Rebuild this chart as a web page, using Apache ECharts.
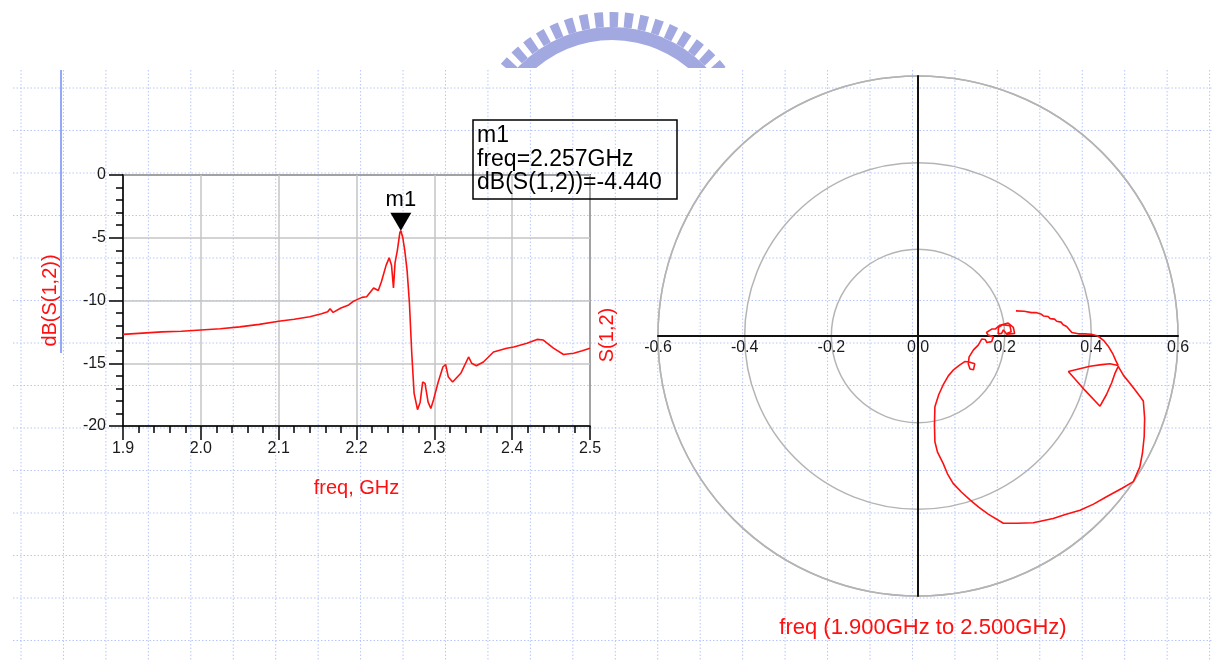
<!DOCTYPE html>
<html><head><meta charset="utf-8">
<script src="https://cdn.jsdelivr.net/npm/echarts@6/dist/echarts.min.js"></script>
<style>html,body{margin:0;padding:0;background:#fff}#c{width:1213px;height:660px}</style>
</head><body><div id="c"></div>
<script>
// ---- data ----
const freqGHz = [1.900,1.925,1.950,1.975,2.000,2.025,2.050,2.075,2.100,2.120,2.140,2.155,2.163,2.166,2.170,2.180,2.190,2.195,2.200,2.207,2.213,2.222,2.228,2.232,2.238,2.242,2.245,2.2475,2.2495,2.2525,2.2557,2.257,2.2595,2.262,2.265,2.268,2.271,2.274,2.2784,2.2818,2.285,2.288,2.292,2.2955,2.299,2.305,2.311,2.3145,2.318,2.3235,2.334,2.344,2.348,2.354,2.363,2.376,2.393,2.402,2.419,2.432,2.440,2.453,2.466,2.479,2.490,2.500];
const s12dB = [-12.7,-12.6,-12.5,-12.45,-12.35,-12.25,-12.1,-11.9,-11.65,-11.5,-11.3,-11.05,-10.9,-10.65,-10.95,-10.6,-10.35,-10.1,-9.95,-9.75,-9.7,-9.0,-9.2,-8.5,-7.2,-6.6,-7.2,-9.0,-7.0,-6.0,-4.6,-4.44,-5.0,-6.0,-7.6,-10.2,-14.2,-17.4,-18.7,-18.1,-16.5,-16.6,-18.1,-18.6,-17.9,-16.5,-15.3,-15.1,-16.1,-16.5,-15.8,-14.5,-15.0,-15.2,-14.9,-14.1,-13.8,-13.7,-13.4,-13.1,-13.15,-13.8,-14.3,-14.2,-14.0,-13.8];
const markerName = 'm1';
const markerFreq = 2.257;
const markerDb = -4.440;
// S(1,2) on the polar plot: real and imaginary parts
const s12Re = [0.226,0.245,0.262,0.272,0.275,0.285,0.290,0.300,0.305,0.315,0.320,0.330,0.335,0.343,0.350,0.355,0.358,0.370,0.385,0.400,0.415,0.428,0.440,0.450,0.457,0.462,0.443,0.424,0.397,0.347,0.385,0.420,0.435,0.447,0.455,0.462,0.475,0.489,0.505,0.520,0.523,0.522,0.518,0.512,0.497,0.470,0.435,0.405,0.374,0.340,0.312,0.266,0.230,0.197,0.162,0.140,0.120,0.100,0.081,0.068,0.058,0.045,0.039,0.038,0.039,0.048,0.058,0.070,0.082,0.095,0.108,0.118,0.131,0.128,0.120,0.116,0.118,0.128,0.139,0.147,0.155,0.159,0.170,0.174,0.162,0.158,0.170,0.178,0.189,0.208,0.220,0.223,0.205,0.197,0.193,0.185,0.186,0.195,0.212,0.215,0.205];
const s12Im = [0.058,0.057,0.054,0.054,0.050,0.050,0.046,0.045,0.040,0.039,0.034,0.032,0.026,0.022,0.014,0.008,0.004,0.005,0.005,0.004,0.000,-0.010,-0.025,-0.042,-0.058,-0.068,-0.064,-0.066,-0.070,-0.082,-0.125,-0.162,-0.135,-0.108,-0.085,-0.070,-0.092,-0.109,-0.130,-0.150,-0.190,-0.232,-0.270,-0.302,-0.336,-0.352,-0.371,-0.388,-0.402,-0.412,-0.421,-0.431,-0.432,-0.432,-0.411,-0.395,-0.378,-0.360,-0.340,-0.318,-0.294,-0.268,-0.244,-0.205,-0.163,-0.135,-0.113,-0.092,-0.078,-0.068,-0.059,-0.060,-0.064,-0.078,-0.076,-0.064,-0.048,-0.032,-0.021,-0.007,-0.008,-0.015,-0.013,-0.002,0.002,0.008,0.016,0.016,0.025,0.030,0.020,0.006,0.004,0.014,0.006,0.005,0.020,0.026,0.024,0.010,0.006];
const freqTickLabels = ['1.9','2.0','2.1','2.2','2.3','2.4','2.5'];
const dbTickLabels = ['-20','-15','-10','-5','0'];
const polarTickLabels = ['-0.6','-0.4','-0.2','0.0','0.2','0.4','0.6'];
const polarRings = [0.2, 0.4, 0.6];
const leftYName = 'dB(S(1,2))';
const rightYName = 'S(1,2)';
const leftXName = 'freq, GHz';
const sweepText = 'freq (1.900GHz to 2.500GHz)';

// ---- chart ----
const FONT = '"Liberation Sans", Arial, Helvetica, sans-serif';
const RED = '#ff1010';
const TXT = '#1a1a1a';
const chart = echarts.init(document.getElementById('c'), null, {renderer: 'canvas'});

function pick(labels, min, step) {
  return v => labels[Math.round((v - min) / step)] ?? '';
}

const g = [];
// watermark logo at the top
const LCX = 612, LCY = 157;
g.push({type: 'arc', z: -8, silent: true,
  shape: {cx: LCX, cy: LCY, r: 137.5, startAngle: -Math.PI/2 - 0.98, endAngle: -Math.PI/2 + 0.98, clockwise: true},
  style: {stroke: '#a2a8e0', lineWidth: 15, lineDash: [8.5, 6.2], fill: 'none'}});
g.push({type: 'arc', z: -8, silent: true,
  shape: {cx: LCX, cy: LCY, r: 123.5, startAngle: -Math.PI/2 - 0.98, endAngle: -Math.PI/2 + 0.98, clockwise: true},
  style: {stroke: '#a2a8e0', lineWidth: 13, fill: 'none'}});
g.push({type: 'rect', z: -7, silent: true, shape: {x: 380, y: 68, width: 480, height: 60}, style: {fill: '#ffffff'}});
// graph paper dotted grid
for (let k = 0; k <= 13; k++) {
  const y = 88 + 42.5 * k;
  g.push({type: 'line', z: -6, silent: true, shape: {x1: 13, y1: y, x2: 1213, y2: y},
    style: {stroke: '#b6c6fa', lineWidth: 1, lineDash: [1.5, 2]}});
}
for (let k = 0; k <= 28; k++) {
  const x = 21 + 42.45 * k;
  g.push({type: 'line', z: -6, silent: true, shape: {x1: x, y1: 70, x2: x, y2: 660},
    style: {stroke: '#b6c6fa', lineWidth: 1, lineDash: [1.5, 2]}});
}
g.push({type: 'line', z: -5, silent: true, shape: {x1: 61, y1: 70, x2: 61, y2: 353}, style: {stroke: '#6f8cf5', lineWidth: 1.5}});
// right-side axis title
g.push({type: 'text', z: 5, x: 607, y: 335, rotation: Math.PI / 2,
  style: {text: rightYName, font: '20px ' + FONT, fill: RED, align: 'center', verticalAlign: 'middle'}});
// marker readout box
g.push({type: 'rect', z: 5, shape: {x: 473, y: 120, width: 204, height: 79}, style: {fill: 'none', stroke: '#000', lineWidth: 1.5}});
g.push({type: 'text', z: 5, x: 477, y: 124,
  style: {text: markerName + '\nfreq=' + markerFreq.toFixed(3) + 'GHz\ndB(S(1,2))=' + markerDb.toFixed(3),
    font: '23px ' + FONT, fill: '#000', lineHeight: 23.5, verticalAlign: 'top', align: 'left'}});
// polar sweep caption
g.push({type: 'text', z: 5, x: 923, y: 628,
  style: {text: sweepText, font: '22px ' + FONT, fill: RED, align: 'center', verticalAlign: 'middle'}});

const option = {
  animation: false,
  backgroundColor: '#ffffff',
  textStyle: {fontFamily: FONT},
  graphic: {elements: g},
  grid: [
    {left: 123, top: 175, width: 467, height: 251, show: true, borderColor: '#000', borderWidth: 1.5, backgroundColor: 'transparent', containLabel: false},
    {left: 658, top: 76, width: 520, height: 520, show: false, containLabel: false}
  ],
  polar: {center: [918, 336], radius: 260},
  radiusAxis: {
    type: 'value', min: 0, max: 0.6, interval: 0.2,
    axisLine: {show: false}, axisTick: {show: false}, axisLabel: {show: false},
    splitLine: {show: true, lineStyle: {color: '#b4b4b4', width: 1.5}}
  },
  angleAxis: {
    type: 'value', min: 0, max: 360,
    axisLine: {show: true, lineStyle: {color: '#b4b4b4', width: 1.5}},
    axisTick: {show: false}, axisLabel: {show: false}, splitLine: {show: false}
  },
  xAxis: [
    {
      gridIndex: 0, type: 'value', min: 1.9, max: 2.5, interval: 0.1,
      name: leftXName, nameLocation: 'middle', nameGap: 52,
      nameTextStyle: {color: RED, fontSize: 20, fontFamily: FONT},
      axisLine: {show: true, onZero: false, lineStyle: {color: '#000', width: 1.5}},
      axisTick: {show: true, length: 14, lineStyle: {color: '#000', width: 1.5}},
      minorTick: {show: true, splitNumber: 5, length: 7, lineStyle: {color: '#000', width: 1.5}},
      splitLine: {show: true, lineStyle: {color: '#c4c4c4', width: 1.5}},
      axisLabel: {color: TXT, fontSize: 16, margin: 15, formatter: pick(freqTickLabels, 1.9, 0.1)}
    },
    {
      gridIndex: 1, type: 'value', min: -0.6, max: 0.6, interval: 0.2,
      position: 'bottom', offset: -260,
      axisLine: {show: true, onZero: false, lineStyle: {color: '#111', width: 2}},
      axisTick: {show: false}, splitLine: {show: false},
      axisLabel: {color: TXT, fontSize: 16, margin: 4, formatter: pick(polarTickLabels, -0.6, 0.2)}
    }
  ],
  yAxis: [
    {
      gridIndex: 0, type: 'value', min: -20, max: 0, interval: 5,
      name: leftYName, nameLocation: 'middle', nameGap: 63, nameRotate: 90,
      nameTextStyle: {color: RED, fontSize: 20, fontFamily: FONT},
      axisLine: {show: true, onZero: false, lineStyle: {color: '#000', width: 1.5}},
      axisTick: {show: true, length: 14, lineStyle: {color: '#000', width: 1.5}},
      minorTick: {show: true, splitNumber: 5, length: 7, lineStyle: {color: '#000', width: 1.5}},
      splitLine: {show: true, lineStyle: {color: '#c4c4c4', width: 1.5}},
      axisLabel: {color: TXT, fontSize: 16, margin: 17, formatter: pick(dbTickLabels, -20, 5)}
    },
    {
      gridIndex: 1, type: 'value', min: -0.6, max: 0.6, interval: 0.2,
      position: 'left', offset: -260,
      axisLine: {show: true, onZero: false, lineStyle: {color: '#111', width: 2}},
      axisTick: {show: false}, axisLabel: {show: false}, splitLine: {show: false}
    }
  ],
  series: [
    {
      type: 'line', xAxisIndex: 0, yAxisIndex: 0, z: 3,
      data: freqGHz.map((f, i) => [f, s12dB[i]]),
      showSymbol: false, symbol: 'none',
      lineStyle: {color: RED, width: 1.6}, itemStyle: {color: RED},
      clip: true,
      markPoint: {
        symbol: 'triangle', symbolSize: [21, 18], symbolRotate: 180, symbolOffset: [0, '-50%'],
        itemStyle: {color: '#000'},
        label: {show: true, position: 'top', distance: 2, formatter: markerName, color: '#000', fontSize: 22, fontFamily: FONT},
        data: [{coord: [markerFreq, markerDb]}]
      }
    },
    {
      type: 'line', xAxisIndex: 1, yAxisIndex: 1, z: 3,
      data: s12Re.map((r, i) => [r, s12Im[i]]),
      showSymbol: false, symbol: 'none',
      lineStyle: {color: RED, width: 1.6}, itemStyle: {color: RED}
    }
  ]
};
chart.setOption(option);
</script>
</body></html>
